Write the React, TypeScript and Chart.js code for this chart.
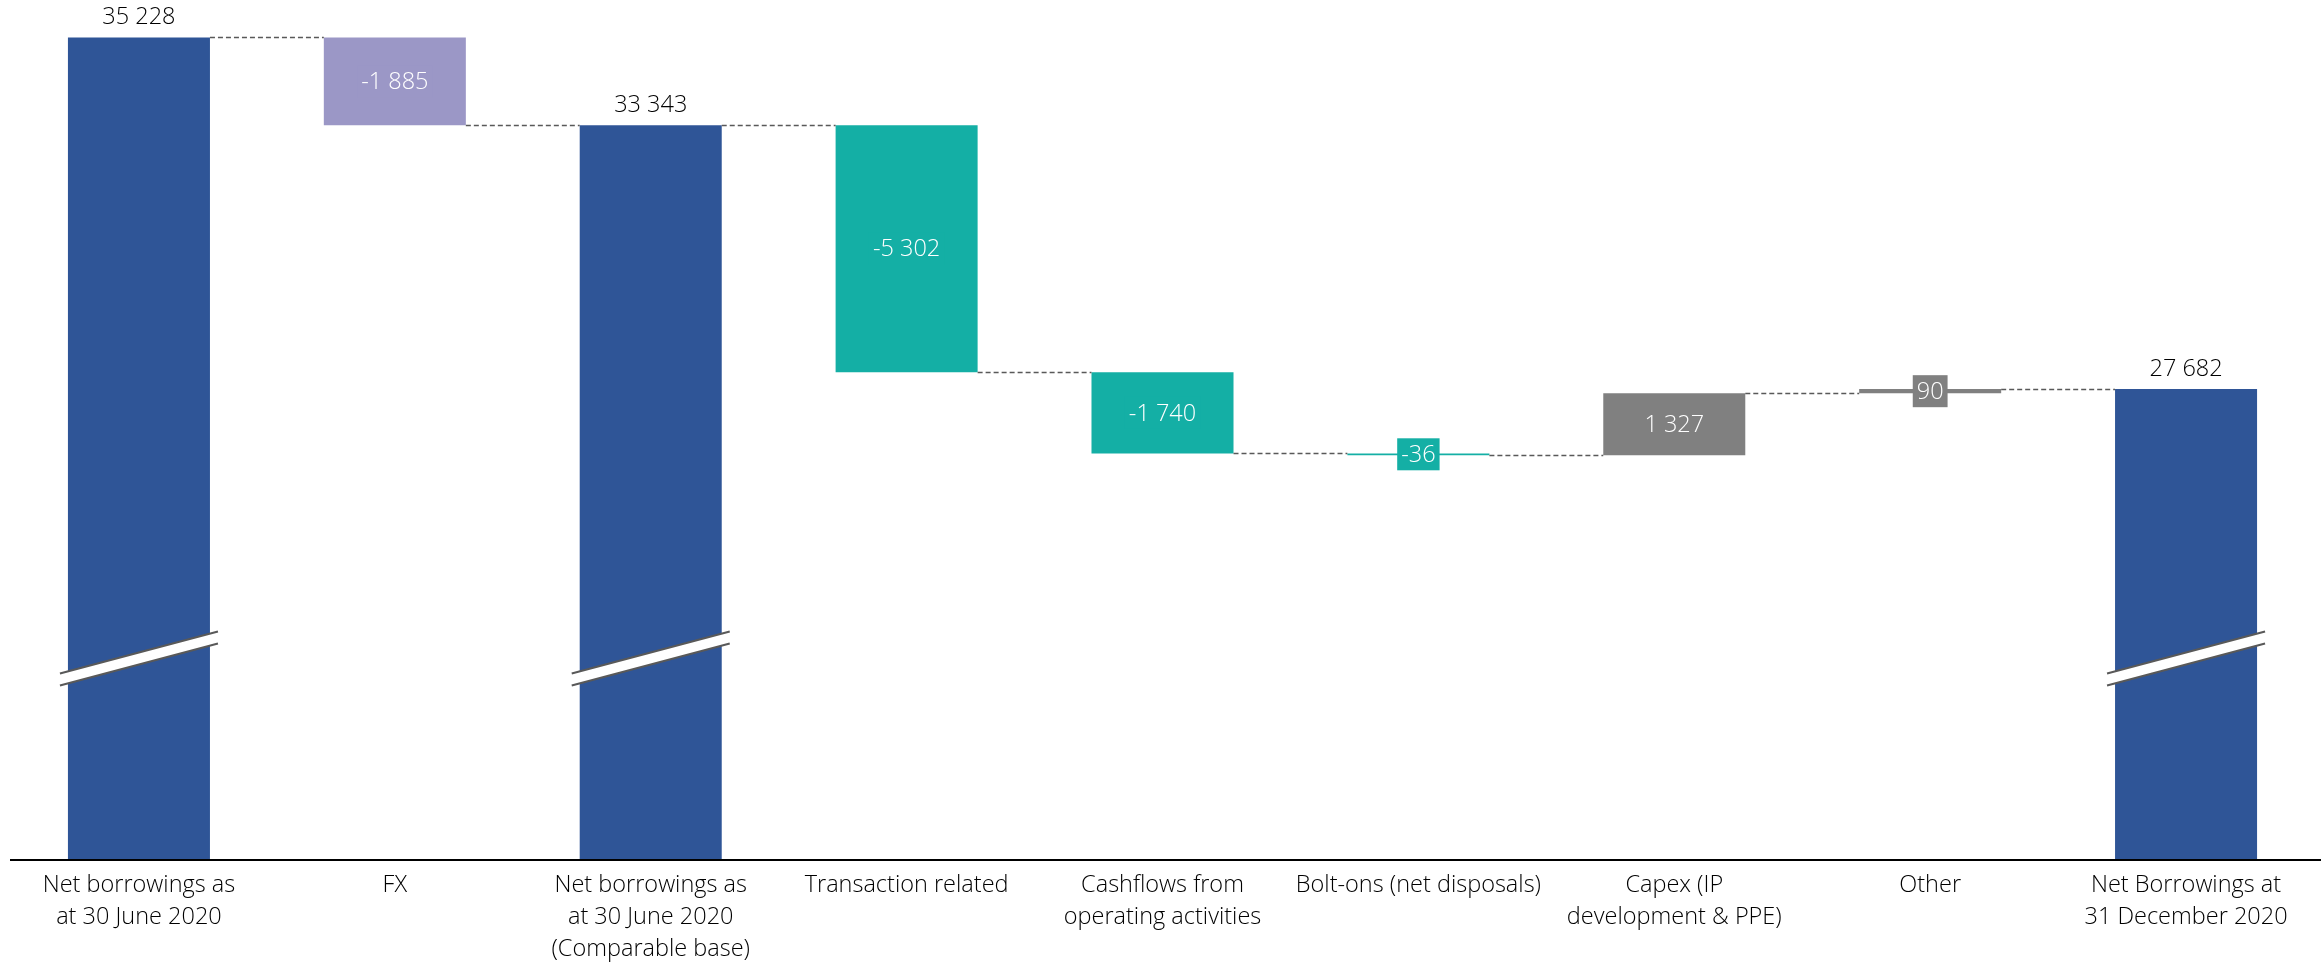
import React, { useEffect, useRef } from "react";
import { Chart, registerables } from "chart.js";

Chart.register(...registerables);

// ---- Data ----
const categories: string[][] = [
  ["Net borrowings as", "at 30 June 2020"],
  ["FX"],
  ["Net borrowings as", "at 30 June 2020", "(Comparable base)"],
  ["Transaction related"],
  ["Cashflows from", "operating activities"],
  ["Bolt-ons (net disposals)"],
  ["Capex (IP", "development & PPE)"],
  ["Other"],
  ["Net Borrowings at", "31 December 2020"],
];
const amounts: number[] = [35228, -1885, 33343, -5302, -1740, -36, 1327, 90, 27682];
const kinds: string[] = ["total", "delta", "total", "delta", "delta", "delta", "delta", "delta", "total"];
const barColors: string[] = [
  "#2F5597",
  "#9B97C6",
  "#2F5597",
  "#14AFA5",
  "#14AFA5",
  "#14AFA5",
  "#808080",
  "#808080",
  "#2F5597",
];
const axisMin = 17600;
const axisMax = 36030;
const axisBreakAt = 21900;

function fmt(v: number): string {
  const s = Math.abs(v)
    .toString()
    .replace(/\B(?=(\d{3})+(?!\d))/g, " ");
  return (v < 0 ? "-" : "") + s;
}

const levels: number[] = [];
const floating: [number, number][] = (() => {
  let running = 0;
  return amounts.map((a, i) => {
    if (kinds[i] === "total") {
      running = a;
      levels.push(running);
      return [axisMin, a] as [number, number];
    }
    const start = running;
    running += a;
    levels.push(running);
    return [start, running] as [number, number];
  });
})();

const FONT = '"Open Sans", "Noto Sans", sans-serif';
const FONT_SIZE = 23.5;
const FONT_WEIGHT = "300";

const waterfallPlugin = {
  id: "waterfall",
  afterDatasetsDraw(chart: any) {
    const ctx: CanvasRenderingContext2D = chart.ctx;
    const meta = chart.getDatasetMeta(0);
    const y = chart.scales.y;
    const area = chart.chartArea;
    const bars = meta.data as any[];

    // connectors
    ctx.save();
    ctx.strokeStyle = "#595959";
    ctx.lineWidth = 1.5;
    ctx.setLineDash([5, 3]);
    for (let i = 0; i < bars.length - 1; i++) {
      const b = bars[i];
      const nb = bars[i + 1];
      const ly = Math.round(y.getPixelForValue(levels[i])) + 0.5;
      ctx.beginPath();
      ctx.moveTo(b.x + b.width / 2, ly);
      ctx.lineTo(nb.x - nb.width / 2, ly);
      ctx.stroke();
    }
    ctx.restore();

    // axis breaks on total bars
    ctx.save();
    const cy = y.getPixelForValue(axisBreakAt);
    bars.forEach((b, i) => {
      if (kinds[i] !== "total") return;
      const x0 = b.x - b.width / 2 - 8;
      const x1 = b.x + b.width / 2 + 8;
      const rise = 21;
      const gap = 6;
      ctx.beginPath();
      ctx.moveTo(x0, cy + rise - gap);
      ctx.lineTo(x1, cy - rise - gap);
      ctx.lineTo(x1, cy - rise + gap);
      ctx.lineTo(x0, cy + rise + gap);
      ctx.closePath();
      ctx.fillStyle = "#ffffff";
      ctx.fill();
      ctx.strokeStyle = "#595959";
      ctx.lineWidth = 2;
      ctx.beginPath();
      ctx.moveTo(x0, cy + rise - gap);
      ctx.lineTo(x1, cy - rise - gap);
      ctx.moveTo(x0, cy + rise + gap);
      ctx.lineTo(x1, cy - rise + gap);
      ctx.stroke();
    });
    ctx.restore();

    // value labels
    ctx.save();
    ctx.font = `${FONT_WEIGHT} ${FONT_SIZE}px ${FONT}`;
    ctx.textAlign = "center";
    ctx.textBaseline = "middle";
    bars.forEach((b, i) => {
      const [lo, hi] = floating[i];
      const text = fmt(amounts[i]);
      if (kinds[i] === "total") {
        ctx.fillStyle = "#000000";
        ctx.fillText(text, b.x, y.getPixelForValue(hi) - 20);
      } else {
        const cyv = (y.getPixelForValue(lo) + y.getPixelForValue(hi)) / 2;
        const w = ctx.measureText(text).width + 8;
        ctx.fillStyle = barColors[i];
        ctx.fillRect(b.x - w / 2, cyv - 16, w, 32);
        ctx.fillStyle = "#ffffff";
        ctx.fillText(text, b.x, cyv + 1);
      }
    });
    ctx.restore();

    // baseline
    ctx.save();
    ctx.strokeStyle = "#000000";
    ctx.lineWidth = 2;
    ctx.beginPath();
    ctx.moveTo(10, area.bottom + 1);
    ctx.lineTo(chart.width, area.bottom + 1);
    ctx.stroke();
    ctx.restore();
  },
};

export default function App() {
  const canvasRef = useRef<HTMLCanvasElement | null>(null);

  useEffect(() => {
    if (!canvasRef.current) return;
    const chart = new Chart(canvasRef.current, {
      type: "bar",
      data: {
        labels: categories,
        datasets: [
          {
            data: floating as any,
            backgroundColor: barColors,
            borderWidth: 0,
            barPercentage: 0.555,
            categoryPercentage: 1,
          },
        ],
      },
      options: {
        animation: false,
        responsive: true,
        maintainAspectRatio: false,
        devicePixelRatio: 1,
        layout: { padding: { left: 11, right: 7, top: 0, bottom: 0 } },
        plugins: {
          legend: { display: false },
          tooltip: { enabled: false },
        },
        scales: {
          x: {
            grid: { display: false, drawTicks: false },
            border: { display: false },
            ticks: {
              color: "#000000",
              padding: 10,
              maxRotation: 0,
              autoSkip: false,
              font: { family: FONT, size: FONT_SIZE, weight: FONT_WEIGHT as any, lineHeight: 32 / FONT_SIZE },
            },
            afterFit: (scale: any) => {
              scale.height = 108;
            },
          },
          y: {
            display: false,
            min: axisMin,
            max: axisMax,
          },
        },
      },
      plugins: [waterfallPlugin],
    });
    return () => chart.destroy();
  }, []);

  return (
    <div style={{ position: "fixed", left: 0, top: 0, width: 2321, height: 967, background: "#ffffff" }}>
      <canvas ref={canvasRef} />
    </div>
  );
}
